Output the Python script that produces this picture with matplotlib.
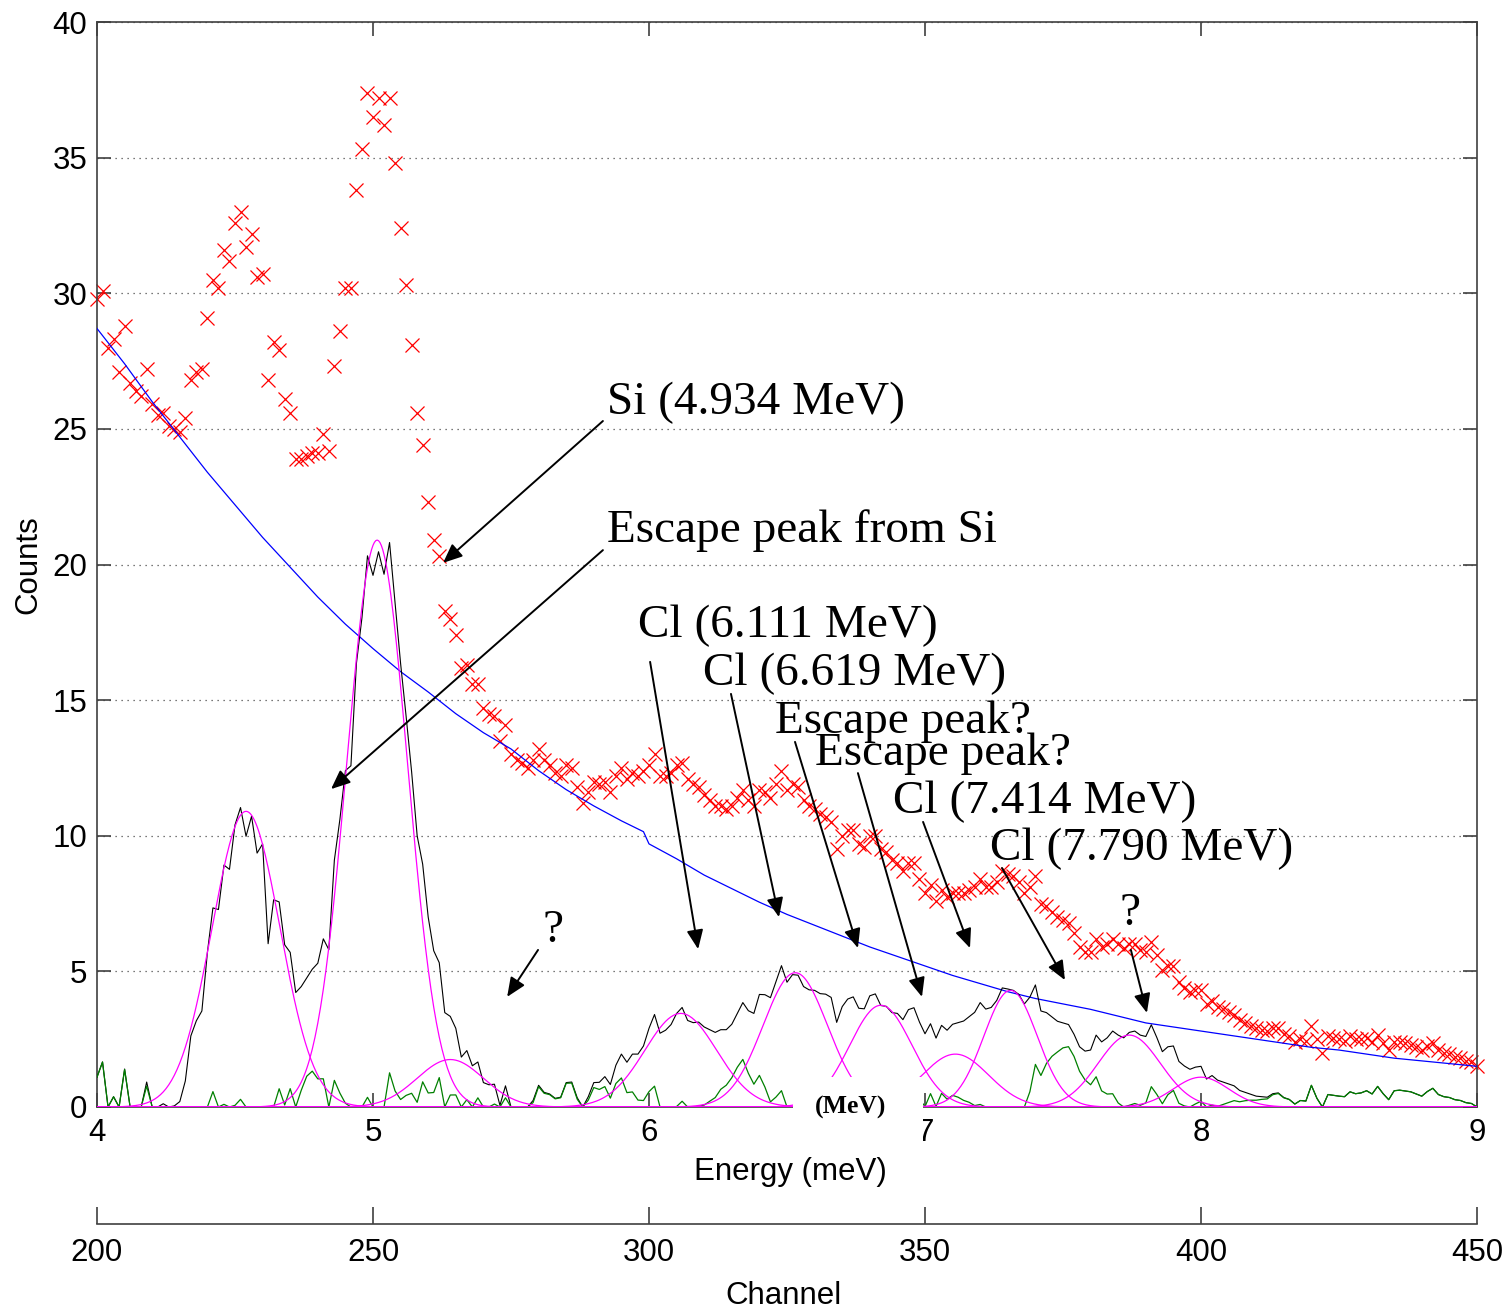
import numpy as np
import matplotlib
matplotlib.use('Agg')
import matplotlib.pyplot as plt
from matplotlib.patches import Rectangle

plt.rcParams['font.family'] = ['Liberation Sans', 'DejaVu Sans']

# channel -> energy calibration (50 channels per MeV, channel 200 = 4 MeV)
channel = np.arange(200, 451)
energy = 4 + (channel - 200) / 50.0

# raw counts per channel (red crosses)
counts = [
    29.8, 30.1, 28.0, 28.3, 27.1, 28.8, 26.7, 26.4, 26.2, 27.2,
    25.9, 25.5, 25.6, 25.1, 25.0, 24.9, 25.4, 26.8, 27.1, 27.2,
    29.1, 30.5, 30.2, 31.6, 31.2, 32.6, 33.0, 31.7, 32.2, 30.6,
    30.7, 26.8, 28.2, 27.9, 26.1, 25.6, 23.9, 23.9, 24.0, 24.1,
    24.1, 24.8, 24.2, 27.3, 28.6, 30.2, 30.2, 33.8, 35.3, 37.4,
    36.5, 37.2, 36.2, 37.2, 34.8, 32.4, 30.3, 28.1, 25.6, 24.4,
    22.3, 20.9, 20.3, 18.3, 18.0, 17.4, 16.2, 16.3, 15.6, 15.6,
    14.7, 14.5, 14.4, 13.5, 14.1, 13.0, 12.8, 12.7, 12.5, 12.8,
    13.2, 12.8, 12.6, 12.3, 12.2, 12.6, 12.5, 11.8, 11.2, 11.6,
    12.0, 11.9, 12.0, 11.6, 12.2, 12.5, 12.1, 12.3, 12.2, 12.4,
    12.6, 13.0, 12.2, 12.2, 12.3, 12.6, 12.7, 12.1, 11.9, 11.8,
    11.5, 11.3, 11.1, 11.1, 11.0, 11.1, 11.4, 11.7, 11.3, 11.1,
    11.7, 11.6, 11.4, 11.9, 12.4, 11.7, 11.9, 11.8, 11.3, 11.1,
    11.0, 10.8, 10.7, 10.5, 9.5, 10.0, 10.2, 10.2, 9.7, 9.6,
    10.0, 10.0, 9.5, 9.4, 9.1, 9.0, 8.7, 9.0, 9.0, 8.4,
    7.9, 8.2, 7.6, 8.0, 7.75, 7.9, 7.9, 7.9, 8.0, 8.1,
    8.4, 8.1, 8.1, 8.3, 8.7, 8.6, 8.5, 8.3, 7.9, 8.1,
    8.5, 7.5, 7.4, 7.2, 7.0, 6.9, 6.8, 6.4, 5.9, 5.7,
    5.7, 6.2, 5.9, 6.0, 6.2, 6.0, 5.85, 6.0, 6.0, 5.8,
    5.7, 6.1, 5.6, 5.05, 5.2, 5.2, 4.6, 4.4, 4.25, 4.3,
    4.3, 3.8, 3.9, 3.7, 3.6, 3.5, 3.4, 3.2, 3.1, 3.0,
    2.9, 2.85, 2.8, 2.9, 2.9, 2.7, 2.6, 2.4, 2.5, 2.45,
    3.0, 2.5, 2.0, 2.6, 2.55, 2.5, 2.45, 2.6, 2.5, 2.5,
    2.55, 2.4, 2.65, 2.35, 2.1, 2.4, 2.4, 2.35, 2.3, 2.2,
    2.1, 2.25, 2.35, 2.1, 2.0, 1.95, 1.85, 1.8, 1.7, 1.65,
    1.5,
]

# background curve (blue)
bg_energy = [4.0, 4.1, 4.2, 4.3, 4.4, 4.5, 4.6, 4.7, 4.8, 4.9,
             5.0, 5.1, 5.2, 5.3, 5.4, 5.5, 5.6, 5.7, 5.8, 5.9,
             5.98, 6.0, 6.1, 6.2, 6.3, 6.4, 6.5, 6.6, 6.7, 6.8,
             6.9, 7.0, 7.1, 7.2, 7.3, 7.4, 7.5, 7.6, 7.7, 7.8,
             7.9, 8.0, 8.1, 8.2, 8.3, 8.4, 8.5, 8.6, 8.7, 8.8,
             8.9, 9.0]
bg_counts = [28.7, 27.4, 26.0, 24.7, 23.4, 22.2, 21.0, 19.9, 18.8, 17.8,
             16.9, 16.05, 15.3, 14.5, 13.8, 13.2, 12.4, 11.7, 11.1, 10.55,
             10.15, 9.7, 9.15, 8.55, 8.05, 7.55, 7.1, 6.7, 6.3, 5.9,
             5.55, 5.2, 4.85, 4.55, 4.25, 4.0, 3.8, 3.6, 3.35, 3.1,
             2.95, 2.8, 2.65, 2.5, 2.35, 2.2, 2.1, 1.95, 1.8, 1.7,
             1.6, 1.5]

# fitted gaussian peaks (magenta)
peak_centre = [4.54, 5.015, 5.28, 6.115, 6.53, 6.84, 7.11, 7.31, 7.74, 8.00]
peak_height = [10.9, 20.9, 1.75, 3.45, 4.95, 3.75, 1.95, 4.3, 2.65, 1.1]
peak_sigma = [0.123, 0.11, 0.12, 0.13, 0.117, 0.113, 0.12, 0.097, 0.113, 0.10]

counts = np.array(counts)
bg = np.interp(energy, bg_energy, bg_counts)
net = np.clip(counts - bg, 0, None)

fine = np.linspace(4, 9, 1001)
fit_sum = np.zeros_like(energy)
gauss_curves = []
for c, h, s in zip(peak_centre, peak_height, peak_sigma):
    gauss_curves.append(h * np.exp(-0.5 * ((fine - c) / s) ** 2))
    fit_sum += h * np.exp(-0.5 * ((energy - c) / s) ** 2)
resid = np.clip(net - fit_sum, 0, None)

W, H = 1510, 1313
fig = plt.figure(figsize=(W / 100, H / 100), dpi=100)
ax = fig.add_axes([97 / W, 1 - 1107 / H, 1380 / W, 1085 / H])

ax.plot(energy, counts, 'x', color='red', ms=9.5, mew=0.9, clip_on=False, zorder=2)
ax.plot(bg_energy, bg_counts, color='blue', lw=0.9, zorder=3)
ax.plot(energy, net, color='black', lw=0.8, zorder=3)
ax.plot(energy, resid, color=(0, 0.5, 0), lw=0.9, zorder=3)
for g in gauss_curves:
    ax.plot(fine, g, color='magenta', lw=0.9, zorder=4)

ax.set_xlim(4, 9)
ax.set_ylim(0, 40)
ax.set_xticks(range(4, 10))
ax.set_yticks(range(0, 41, 5))
ax.yaxis.grid(True, linestyle=(0, (1, 3.8)), color='0.3', lw=0.9)
ax.set_axisbelow(True)
for sp in ax.spines.values():
    sp.set_color('0.25')
    sp.set_linewidth(1.2)
ax.tick_params(direction='in', length=10, width=1.2, color='0.25',
               top=True, right=True, labelsize=22.5)
ax.tick_params(axis='x', pad=8)
ax.tick_params(axis='y', pad=7)

# annotations: label text (x, baseline), arrow tail, arrow tip
notes = [
    ('Si (4.934 MeV)', (5.848, 25.55), (5.833, 25.29), (5.254, 20.06)),
    ('Escape peak from Si', (5.848, 20.83), (5.833, 20.53), (4.848, 11.72)),
    ('Cl (6.111 MeV)', (5.960, 17.33), (6.004, 16.41), (6.178, 5.82)),
    ('Cl (6.619 MeV)', (6.196, 15.56), (6.297, 15.23), (6.471, 7.00)),
    ('Escape peak?', (6.457, 13.79), (6.529, 13.46), (6.757, 5.86)),
    ('Escape peak?', (6.601, 12.61), (6.757, 12.31), (6.989, 4.06)),
    ('Cl (7.414 MeV)', (6.884, 10.84), (6.993, 10.51), (7.163, 5.86)),
    ('Cl (7.790 MeV)', (7.236, 9.11), (7.279, 8.81), (7.507, 4.68)),
]
for txt, pos, tail, tip in notes:
    ax.text(pos[0], pos[1], txt, fontsize=34, family='Liberation Serif',
            ha='left', va='baseline', zorder=6)
    ax.annotate('', xy=tip, xytext=tail,
                arrowprops=dict(arrowstyle='-|>,head_length=0.58,head_width=0.25',
                                mutation_scale=20, lw=1.4, color='k',
                                shrinkA=0, shrinkB=0), zorder=6)

qmarks = [((5.652, 6.08), (5.598, 5.79), (5.486, 4.06)),
          ((7.743, 6.71), (7.746, 5.79), (7.804, 3.47))]
for pos, tail, tip in qmarks:
    ax.text(pos[0], pos[1], '?', fontsize=34, family='Liberation Serif',
            ha='center', va='baseline', zorder=6)
    ax.annotate('', xy=tip, xytext=tail,
                arrowprops=dict(arrowstyle='-|>,head_length=0.58,head_width=0.25',
                                mutation_scale=20, lw=1.4, color='k',
                                shrinkA=0, shrinkB=0), zorder=6)

# channel axis underneath
ax2 = fig.add_axes([97 / W, 1 - 1224 / H, 1380 / W, 0.0001])
ax2.set_xlim(200, 450)
ax2.set_xticks(range(200, 451, 50))
ax2.set_yticks([])
for k in ['top', 'left', 'right']:
    ax2.spines[k].set_visible(False)
ax2.spines['bottom'].set_color('0.25')
ax2.spines['bottom'].set_linewidth(1.2)
ax2.patch.set_visible(False)
ax2.tick_params(direction='in', length=12, width=1.2, color='0.25',
                labelsize=22.5, pad=10)

fig.text(790 / W, 1 - 1172 / H, 'Energy (meV)', ha='center', va='center', fontsize=22.5)
fig.text(28 / W, 1 - 565 / H, 'Counts', ha='center', va='center', rotation=90, fontsize=22.5)
fig.text(783 / W, 1 - 1296 / H, 'Channel', ha='center', va='center', fontsize=22.5)

# white label box sitting on the energy axis
fig.add_artist(Rectangle((793 / W, 1 - 1150 / H), 130 / W, 73 / H,
                         transform=fig.transFigure, facecolor='white',
                         edgecolor='none', zorder=5))
fig.text(851 / W, 1 - 1107 / H, '(MeV)', ha='center', va='center', fontsize=18.5,
         fontweight='bold', family='Liberation Serif', zorder=6)

fig.savefig('out.png', dpi=100)
